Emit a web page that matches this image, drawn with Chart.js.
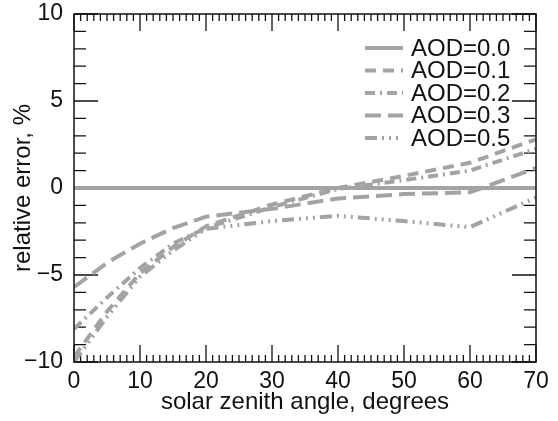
<!DOCTYPE html>
<html>
<head>
<meta charset="utf-8">
<script src="https://cdn.jsdelivr.net/npm/chart.js@4/dist/chart.umd.min.js"></script>
<style>
  html, body { margin: 0; padding: 0; background: #ffffff; }
  canvas { display: block; }
</style>
</head>
<body>
<canvas id="aod-chart" width="558" height="421"></canvas>
<script>
const angles = [0, 5, 10, 15, 20, 30, 40, 50, 60, 70];
const aod00 = [0, 0, 0, 0, 0, 0, 0, 0, 0, 0];
const aod01 = [-9.7, -7.1, -4.9, -3.4, -2.2, -0.95, 0.0, 0.7, 1.45, 2.8];
const aod02 = [-8.1, -6.3, -4.6, -3.2, -2.3, -1.1, -0.05, 0.45, 1.0, 2.25];
const aod03 = [-5.7, -4.3, -3.2, -2.3, -1.65, -1.2, -0.6, -0.35, -0.25, 1.15];
const aod05 = [-10.0, -7.4, -5.1, -3.6, -2.35, -1.9, -1.6, -1.9, -2.25, -0.55];
const seriesLabels = ["AOD=0.0", "AOD=0.1", "AOD=0.2", "AOD=0.3", "AOD=0.5"];

const GRAY = "#a3a3a3";
const FONT = "'Liberation Sans', Arial, sans-serif";

function toPoints(values) {
  return angles.map((a, i) => ({ x: a, y: values[i] }));
}

function makeDataset(label, values, dash) {
  return {
    label,
    data: toPoints(values),
    borderColor: GRAY,
    borderWidth: 4,
    borderDash: dash,
    borderCapStyle: "butt",
    pointRadius: 0,
    tension: 0,
    fill: false,
  };
}

// inward ticks on all four sides (under the curves), frame and legend on top
const framePlugin = {
  id: "frame",
  beforeDatasetsDraw(chart) {
    const { ctx, chartArea: area, scales } = chart;
    const xs = scales.x;
    const ys = scales.y;
    ctx.save();
    ctx.strokeStyle = "#111";
    ctx.lineWidth = 1.3;
    ctx.beginPath();
    for (let a = 0; a <= 70; a += 1) {
      const px = xs.getPixelForValue(a);
      const len = a % 10 === 0 ? 17 : 7;
      ctx.moveTo(px, area.bottom);
      ctx.lineTo(px, area.bottom - len);
      ctx.moveTo(px, area.top);
      ctx.lineTo(px, area.top + len);
    }
    for (let v = -10; v <= 10; v += 1) {
      const py = ys.getPixelForValue(v);
      const len = v % 5 === 0 ? 24 : 12;
      ctx.moveTo(area.left, py);
      ctx.lineTo(area.left + len, py);
      ctx.moveTo(area.right, py);
      ctx.lineTo(area.right - len, py);
    }
    ctx.stroke();
    ctx.restore();
  },
  afterDraw(chart) {
    const { ctx, chartArea: area } = chart;
    ctx.save();
    ctx.strokeStyle = "#111";
    ctx.lineWidth = 1.5;
    ctx.strokeRect(area.left, area.top, area.right - area.left, area.bottom - area.top);

    // legend
    const lineStart = 365;
    const lineEnd = 403;
    const textX = 411;
    let rowY = 48;
    ctx.font = "24px " + FONT;
    ctx.textBaseline = "middle";
    ctx.textAlign = "left";
    chart.data.datasets.forEach((ds) => {
      ctx.save();
      ctx.strokeStyle = ds.borderColor;
      ctx.lineWidth = ds.borderWidth;
      ctx.setLineDash(ds.borderDash || []);
      ctx.lineCap = "butt";
      ctx.beginPath();
      ctx.moveTo(lineStart, rowY);
      ctx.lineTo(lineEnd, rowY);
      ctx.stroke();
      ctx.restore();
      ctx.fillStyle = "#111";
      ctx.fillText(ds.label, textX, rowY + 1);
      rowY += 22.5;
    });
    ctx.restore();
  },
};

new Chart(document.getElementById("aod-chart"), {
  type: "line",
  data: {
    datasets: [
      makeDataset(seriesLabels[0], aod00, []),
      makeDataset(seriesLabels[1], aod01, [11, 7]),
      makeDataset(seriesLabels[2], aod02, [10, 5, 2, 5]),
      makeDataset(seriesLabels[3], aod03, [16, 7]),
      makeDataset(seriesLabels[4], aod05, [12, 5, 2, 5, 2, 5, 2, 5]),
    ],
  },
  options: {
    responsive: false,
    animation: false,
    devicePixelRatio: 1,
    layout: { padding: { top: 14, right: 22, left: 0, bottom: 0 } },
    plugins: {
      legend: { display: false },
      tooltip: { enabled: false },
    },
    scales: {
      x: {
        type: "linear",
        min: 0,
        max: 70,
        grid: { display: false, drawTicks: false },
        border: { display: false },
        ticks: {
          stepSize: 10,
          padding: 6,
          color: "#111",
          font: { family: FONT, size: 23 },
          maxRotation: 0,
        },
        title: {
          display: true,
          text: "solar zenith angle, degrees",
          color: "#111",
          font: { family: FONT, size: 24 },
          padding: { top: 0, bottom: 4 },
        },
        afterFit(scale) {
          scale.height = 59;
          scale.paddingLeft = 0;
          scale.paddingRight = 0;
        },
      },
      y: {
        min: -10,
        max: 10,
        grid: { display: false, drawTicks: false },
        border: { display: false },
        ticks: {
          stepSize: 5,
          padding: 11,
          color: "#111",
          font: { family: FONT, size: 23 },
          callback: (v) => (v < 0 ? "\u2212" + Math.abs(v) : String(v)),
        },
        title: {
          display: true,
          text: "relative error, %",
          color: "#111",
          font: { family: FONT, size: 24 },
          padding: { top: 9, bottom: 0 },
        },
        afterFit(scale) {
          scale.width = 74;
          scale.paddingTop = 0;
          scale.paddingBottom = 0;
        },
      },
    },
  },
  plugins: [framePlugin],
});
</script>
</body>
</html>
